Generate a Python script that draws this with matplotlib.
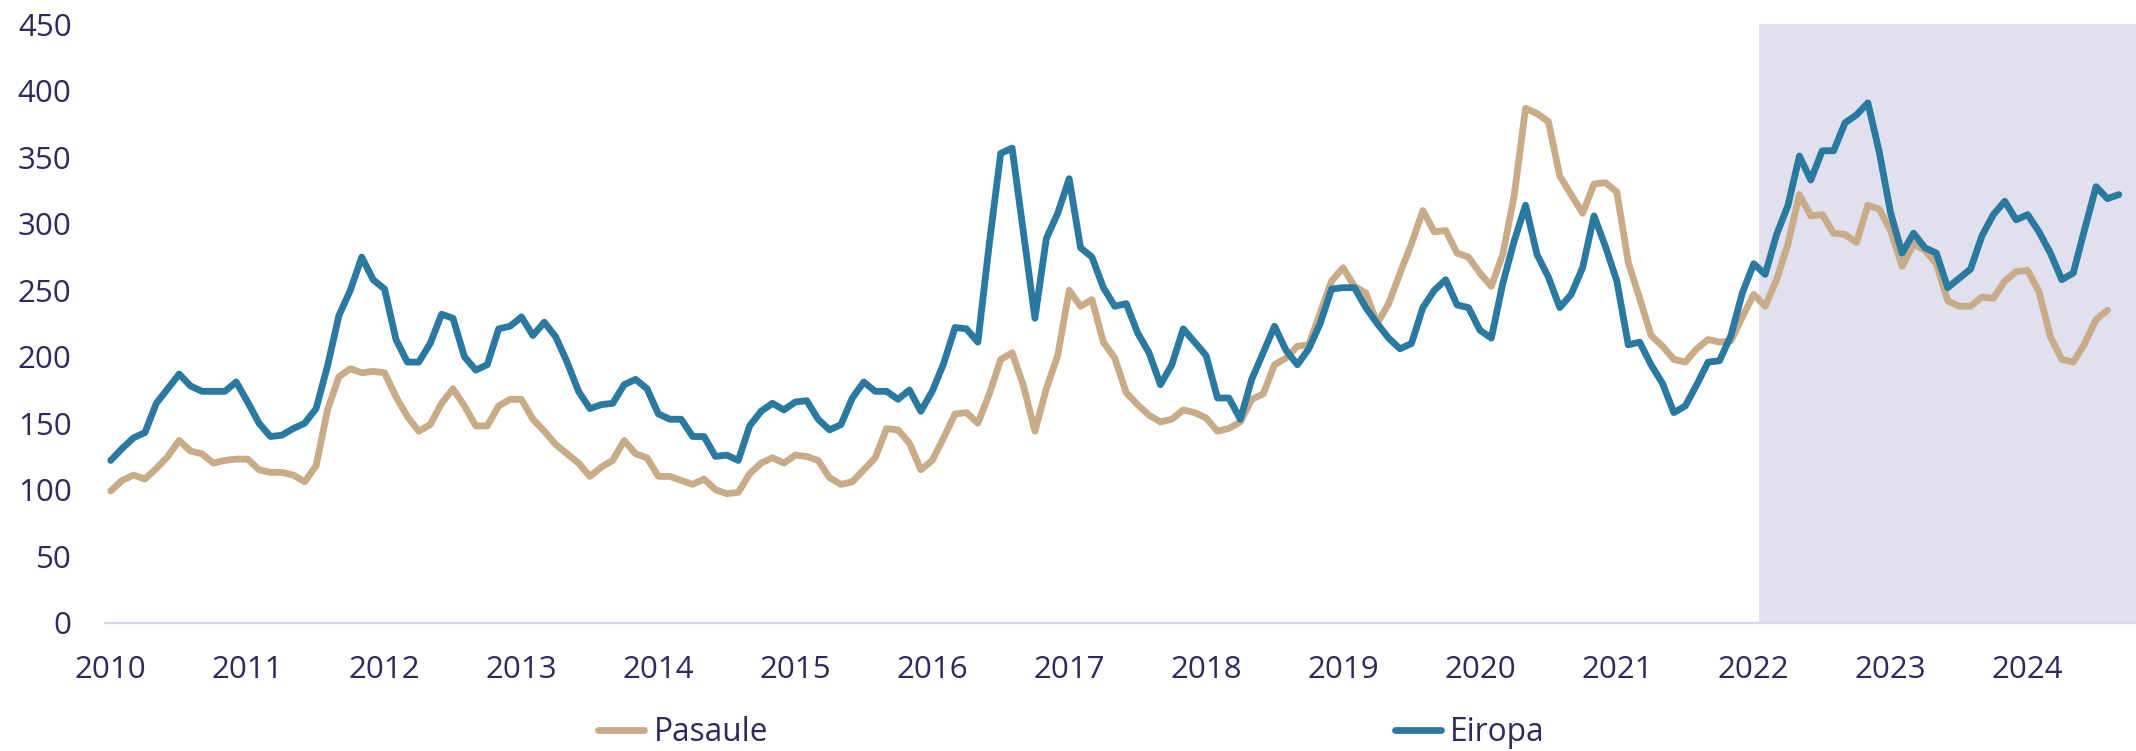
import matplotlib
matplotlib.use("Agg")
import matplotlib.pyplot as plt

# monthly index, Jan 2010 = 0
eiropa = [
    122, 131, 139, 143, 165, 176, 187, 178, 174, 174, 174, 181, 166, 150, 140, 141, 146, 150, 161, 193,
    231, 250, 275, 258, 251, 213, 196, 196, 210, 232, 229, 200, 190, 194, 221, 223, 230, 216, 226, 215,
    196, 174, 161, 164, 165, 179, 183, 176, 157, 153, 153, 140, 140, 125, 126, 122, 148, 159, 165, 160,
    166, 167, 153, 145, 149, 169, 181, 174, 174, 168, 175, 159, 174, 195, 222, 221, 211, 285, 353, 357,
    293, 229, 289, 308, 334, 282, 275, 252, 238, 240, 218, 203, 179, 194, 221, 211, 201, 169, 169, 153,
    183, 203, 223, 205, 194, 206, 225, 251, 252, 252, 237, 225, 214, 206, 210, 237, 250, 258, 239, 237,
    220, 214, 255, 287, 314, 277, 260, 237, 247, 267, 306, 283, 257, 209, 211, 194, 180, 158, 163, 179,
    196, 197, 216, 248, 270, 262, 292, 314, 351, 333, 355, 355, 376, 382, 391, 354, 308, 278, 293, 282,
    278, 252, 259, 266, 291, 307, 317, 303, 307, 294, 278, 258, 263, 296, 328, 319, 322,
]
pasaule = [
    99, 107, 111, 108, 116, 125, 137, 129, 127, 120, 122, 123, 123, 115, 113, 113, 111, 106, 118, 160,
    185, 191, 188, 189, 188, 170, 155, 144, 149, 165, 176, 163, 148, 148, 163, 168, 168, 153, 144, 134,
    127, 120, 110, 117, 122, 137, 127, 124, 110, 110, 107, 104, 108, 100, 97, 98, 112, 120, 124, 120,
    126, 125, 122, 109, 104, 106, 115, 124, 146, 145, 135, 115, 122, 139, 157, 158, 150, 172, 198, 203,
    178, 144, 176, 201, 250, 238, 243, 211, 199, 173, 164, 156, 151, 153, 160, 158, 154, 144, 146, 151,
    168, 172, 194, 199, 208, 209, 233, 257, 267, 253, 248, 225, 240, 263, 285, 310, 294, 295, 278, 275,
    263, 253, 277, 321, 387, 383, 377, 336, 322, 308, 330, 331, 324, 271, 244, 216, 208, 198, 196, 206,
    213, 211, 212, 230, 247, 238, 258, 285, 322, 306, 307, 293, 292, 286, 314, 311, 295, 268, 285, 280,
    270, 242, 238, 238, 245, 244, 257, 264, 265, 249, 215, 198, 196, 210, 228, 235,
]
years = list(range(2010, 2025))
y_ticks = list(range(0, 451, 50))
shade_from = 144.5  # from 2022

TXT = "#2D2B5A"
plt.rcParams["font.family"] = ["Open Sans", "DejaVu Sans"]

fig = plt.figure(figsize=(21.36, 7.51), dpi=100)
ax = fig.add_axes([0.04916, 0.17097, 0.95084, 0.79641])

ax.axvspan(shade_from, 177.5, color="#E0E0EE", lw=0, zorder=0)
ax.plot(range(len(pasaule)), pasaule, color="#C9AB87", lw=4.9, label="Pasaule",
        solid_joinstyle="round", solid_capstyle="round", zorder=2)
ax.plot(range(len(eiropa)), eiropa, color="#2979A1", lw=4.9, label="Eiropa",
        solid_joinstyle="round", solid_capstyle="round", zorder=3)

ax.set_xlim(-0.5, 177.5)
ax.set_ylim(0, 450)
ax.set_xticks([12 * i for i in range(len(years))])
ax.set_xticklabels([str(y) for y in years])
ax.set_yticks(y_ticks)
ax.tick_params(axis="both", length=0, labelsize=22.5, labelcolor=TXT)
ax.tick_params(axis="x", pad=23.5)
ax.tick_params(axis="y", pad=24)

for s in ["top", "right", "left"]:
    ax.spines[s].set_visible(False)
ax.spines["bottom"].set_color("#D8D8EA")
ax.spines["bottom"].set_linewidth(1.6)
ax.spines["bottom"].set_zorder(1)

leg = fig.legend(loc="center left", bbox_to_anchor=(598 / 2136, 0.024), ncol=2,
                 frameon=False, fontsize=22.8, handlelength=1.45, handletextpad=0.3,
                 columnspacing=19.8, borderpad=0, borderaxespad=0)
for t in leg.get_texts():
    t.set_color(TXT)

fig.savefig("out.png", dpi=100)
